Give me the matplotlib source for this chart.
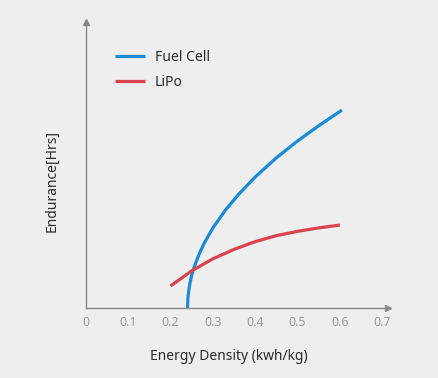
import matplotlib.pyplot as plt
import numpy as np

plt.rcParams['font.family'] = ['Noto Sans', 'DejaVu Sans']

# values (y in arbitrary units, no y ticks shown)
fuel_x = [0.24, 0.241, 0.243, 0.246, 0.25, 0.255, 0.26, 0.27, 0.28, 0.30, 0.33, 0.36, 0.40, 0.45, 0.50, 0.55, 0.605]
fuel_y = [0.0, 0.36, 0.62, 0.88, 1.15, 1.4, 1.6, 1.97, 2.28, 2.8, 3.43, 3.96, 4.58, 5.25, 5.84, 6.37, 6.92]
lipo_x = [0.2, 0.25, 0.3, 0.35, 0.4, 0.45, 0.5, 0.55, 0.6]
lipo_y = [0.77, 1.3, 1.72, 2.05, 2.32, 2.53, 2.68, 2.8, 2.9]
x_ticks = [0, 0.1, 0.2, 0.3, 0.4, 0.5, 0.6, 0.7]
x_tick_labels = ['0', '0.1', '0.2', '0.3', '0.4', '0.5', '0.6', '0.7']

BG = '#eeeeee'
AXIS = '#888888'

fig = plt.figure(figsize=(4.38, 3.78), dpi=100, facecolor=BG)
ax = fig.add_axes([86 / 438, 1 - 308 / 378, (388 - 86) / 438, (308 - 22) / 378])
ax.set_facecolor(BG)

ax.plot(fuel_x, fuel_y, color='#1a8ad4', linewidth=2.3, label='Fuel Cell', solid_capstyle='butt')
ax.plot(lipo_x, lipo_y, color='#d9434f', linewidth=2.3, label='LiPo', solid_capstyle='butt')

ax.set_xlim(0, 0.714)
ax.set_ylim(0, 10)

for s in ax.spines.values():
    s.set_visible(False)
# axis lines with arrow heads
ax.plot([0, 0], [0, 1], transform=ax.transAxes, color=AXIS, linewidth=1, clip_on=False)
ax.plot([0, 1], [0, 0], transform=ax.transAxes, color=AXIS, linewidth=1, clip_on=False)
ax.plot([0], [1], marker='^', markersize=5, color=AXIS, transform=ax.transAxes, clip_on=False)
ax.plot([1], [0], marker='>', markersize=5, color=AXIS, transform=ax.transAxes, clip_on=False)

ax.set_xticks(x_ticks)
ax.set_xticklabels(x_tick_labels)
ax.tick_params(axis='x', length=0, pad=6, labelsize=9, labelcolor='#999999')
ax.set_yticks([])

ax.set_xlabel('Energy Density (kwh/kg)', fontsize=10, color='#2b2b2b', va='center')
ax.xaxis.set_label_coords(0.474, -0.171)
ax.set_ylabel('Endurance[Hrs]', fontsize=10, color='#2b2b2b', va='center')
ax.yaxis.set_label_coords(-0.113, 0.444)

leg = ax.legend(loc='upper left', bbox_to_anchor=(0.053, 0.945), frameon=False,
                fontsize=10, handlelength=2.2, handletextpad=0.7, labelspacing=0.7)
for t in leg.get_texts():
    t.set_color('#2b2b2b')

plt.savefig('out.png', dpi=100, facecolor=BG)
plt.close()
